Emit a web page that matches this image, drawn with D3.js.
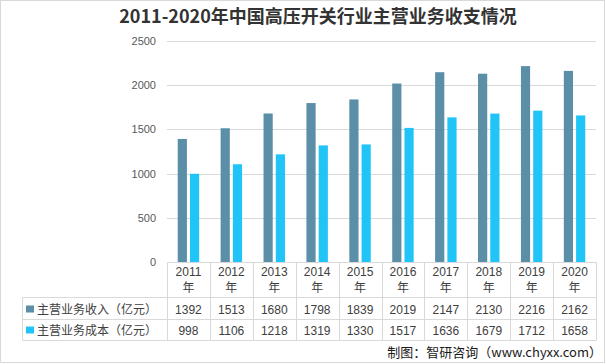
<!DOCTYPE html>
<html><head><meta charset="utf-8">
<script src="https://cdn.jsdelivr.net/npm/d3@7/dist/d3.min.js"></script>
<style>body{margin:0;background:#fff}svg{display:block}</style>
</head><body><svg id="c" width="606" height="364"></svg>
<script>
const years = ["2011","2012","2013","2014","2015","2016","2017","2018","2019","2020"];
const seriesNames = ["主营业务收入（亿元）","主营业务成本（亿元）"];
const revenue = [1392,1513,1680,1798,1839,2019,2147,2130,2216,2162];
const cost = [998,1106,1218,1319,1330,1517,1636,1679,1712,1658];
const yTicks = [0,500,1000,1500,2000,2500];
const colors = ["#5B8FA8","#21C4F7"];
const title = "2011-2020年中国高压开关行业主营业务收支情况";
const source = "制图：智研咨询（www.chyxx.com）";

const svg = d3.select("#c");
const font = "'Liberation Sans','Noto Sans CJK SC',sans-serif";
const cjk = "'Noto Sans CJK SC','Liberation Sans',sans-serif";
const L = 167, R = 596, T = 41, B = 262;
const series = [revenue, cost];

svg.append("rect").attr("x",0.5).attr("y",0.5).attr("width",604).attr("height",362)
  .attr("fill","#fff").attr("stroke","#d9d9d9");

svg.append("text").attr("x",318).attr("y",23).attr("text-anchor","middle")
  .attr("font-family",cjk).attr("font-weight","bold").attr("font-size",18)
  .attr("fill","#333").text(title);

const x0 = d3.scaleBand().domain(years).range([L,R]);
const bw = x0.bandwidth();
const x1 = d3.scaleBand().domain([0,1]).range([bw*0.25,bw*0.75]).paddingInner(0.25);
const y = d3.scaleLinear().domain([0,2500]).range([B,T]);

// gridlines
svg.append("g").selectAll("line").data(yTicks.filter(d=>d>0)).join("line")
  .attr("x1",L).attr("x2",R).attr("y1",d=>Math.round(y(d))+0.5).attr("y2",d=>Math.round(y(d))+0.5)
  .attr("stroke","#d9d9d9");
// y labels
svg.append("g").selectAll("text").data(yTicks).join("text")
  .attr("x",156).attr("y",d=>y(d)+4).attr("text-anchor","end")
  .attr("font-family",font).attr("font-size",11).attr("fill","#595959").text(d=>d);

// bars
const g = svg.append("g").selectAll("g").data(years).join("g")
  .attr("transform",d=>`translate(${x0(d)},0)`);
g.selectAll("rect").data((d,i)=>series.map((s,k)=>({k,v:s[i]}))).join("rect")
  .attr("x",d=>x1(d.k)).attr("width",x1.bandwidth())
  .attr("y",d=>y(d.v)).attr("height",d=>B-y(d.v)).attr("fill",d=>colors[d.k]);

// table
const grid = "#d9d9d9";
const rows = [297.5, 319.5, 340.5];
const tg = svg.append("g");
tg.append("line").attr("x1",L).attr("x2",R).attr("y1",B+0.5).attr("y2",B+0.5).attr("stroke",grid);
rows.forEach(r=>tg.append("line").attr("x1",22.5).attr("x2",R).attr("y1",r).attr("y2",r).attr("stroke",grid));
tg.append("line").attr("x1",22.5).attr("x2",22.5).attr("y1",rows[0]).attr("y2",rows[2]).attr("stroke",grid);
tg.selectAll("line.v").data(years.concat(["end"])).join("line").attr("class","v")
  .attr("x1",d=>Math.round(d==="end"?R:x0(d))+0.5).attr("x2",d=>Math.round(d==="end"?R:x0(d))+0.5)
  .attr("y1",B).attr("y2",rows[2]).attr("stroke",grid);

// header labels
const hd = tg.selectAll("g.h").data(years).join("g").attr("class","h")
  .attr("transform",d=>`translate(${x0(d)+bw/2},0)`);
hd.append("text").attr("y",276).attr("text-anchor","middle").attr("font-family",font)
  .attr("font-size",12).attr("fill","#404040").text(d=>d);
hd.append("text").attr("y",292).attr("text-anchor","middle").attr("font-family",cjk)
  .attr("font-size",12).attr("fill","#404040").text("年");

// row labels & values
const rowY = [313.5, 334.5];
seriesNames.forEach((name,k)=>{
  tg.append("rect").attr("x",26).attr("y",rowY[k]-8).attr("width",8).attr("height",7).attr("fill",colors[k]);
  tg.append("text").attr("x",37).attr("y",rowY[k]).attr("font-family",cjk).attr("font-size",12)
    .attr("fill","#404040").text(name);
  tg.selectAll(null).data(series[k]).join("text")
    .attr("x",(d,i)=>x0(years[i])+bw/2).attr("y",rowY[k]).attr("text-anchor","middle")
    .attr("font-family",font).attr("font-size",12).attr("fill","#404040").text(d=>d);
});

svg.append("text").attr("x",602).attr("y",357).attr("text-anchor","end")
  .attr("font-family",cjk).attr("font-size",13).attr("fill","#1a1a1a").text(source);
</script></body></html>
